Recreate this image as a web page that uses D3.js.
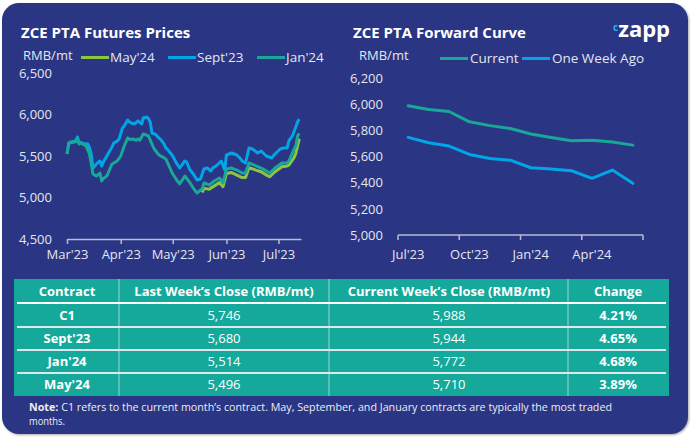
<!DOCTYPE html>
<html>
<head>
<meta charset="utf-8">
<script src="https://cdn.jsdelivr.net/npm/d3@7"></script>
<style>
html,body{margin:0;padding:0;background:#fff;}
svg{display:block;font-family:"Open Sans",sans-serif;}
</style>
</head>
<body>
<svg id="chart" width="693" height="438"></svg>
<script>
// ---------- DATA ----------
const sept23 = [
["2023-03-01",5524],["2023-03-02",5645],["2023-03-03",5660],["2023-03-06",5672],["2023-03-07",5729],
["2023-03-08",5657],["2023-03-09",5665],["2023-03-10",5650],["2023-03-13",5645],["2023-03-14",5600],
["2023-03-15",5524],["2023-03-16",5355],["2023-03-17",5380],["2023-03-18",5404],["2023-03-20",5440],
["2023-03-21",5380],["2023-03-22",5430],["2023-03-24",5500],["2023-03-27",5610],["2023-03-28",5657],
["2023-03-30",5681],["2023-03-31",5700],["2023-04-02",5837],["2023-04-03",5860],["2023-04-05",5934],
["2023-04-06",5910],["2023-04-07",5898],["2023-04-09",5886],["2023-04-11",5922],["2023-04-13",5886],
["2023-04-14",5958],["2023-04-16",5970],["2023-04-17",5950],["2023-04-18",5910],["2023-04-19",5777],
["2023-04-21",5760],["2023-04-23",5717],["2023-04-24",5700],["2023-04-26",5645],["2023-04-27",5596],
["2023-04-28",5580],["2023-05-01",5500],["2023-05-03",5420],["2023-05-05",5355],["2023-05-08",5440],
["2023-05-09",5428],["2023-05-11",5331],["2023-05-13",5280],["2023-05-15",5211],["2023-05-17",5223],
["2023-05-19",5343],["2023-05-21",5355],["2023-05-23",5319],["2023-05-24",5355],["2023-05-26",5380],
["2023-05-29",5440],["2023-05-31",5331],["2023-06-01",5512],["2023-06-04",5536],["2023-06-07",5512],
["2023-06-09",5470],["2023-06-10",5440],["2023-06-12",5416],["2023-06-14",5596],["2023-06-16",5584],
["2023-06-19",5536],["2023-06-21",5560],["2023-06-24",5500],["2023-06-27",5476],["2023-06-29",5524],
["2023-07-02",5584],["2023-07-04",5596],["2023-07-06",5596],["2023-07-07",5681],["2023-07-09",5741],
["2023-07-11",5850],["2023-07-12",5910],["2023-07-13",5944]
];
const jan24 = [
["2023-03-01",5524],["2023-03-02",5657],["2023-03-03",5670],["2023-03-06",5681],["2023-03-07",5717],
["2023-03-08",5645],["2023-03-09",5655],["2023-03-10",5645],["2023-03-12",5620],["2023-03-14",5524],
["2023-03-16",5283],["2023-03-17",5270],["2023-03-18",5259],["2023-03-20",5295],["2023-03-21",5199],
["2023-03-22",5230],["2023-03-24",5259],["2023-03-27",5404],["2023-03-30",5440],["2023-04-01",5500],
["2023-04-03",5620],["2023-04-05",5717],["2023-04-06",5700],["2023-04-08",5705],["2023-04-10",5690],
["2023-04-11",5705],["2023-04-12",5690],["2023-04-14",5765],["2023-04-16",5750],["2023-04-17",5741],
["2023-04-19",5645],["2023-04-20",5596],["2023-04-23",5512],["2023-04-25",5490],["2023-04-27",5464],
["2023-05-01",5283],["2023-05-03",5220],["2023-05-05",5163],["2023-05-08",5259],["2023-05-11",5175],
["2023-05-13",5110],["2023-05-15",5054],["2023-05-17",5090],["2023-05-18",5102],["2023-05-19",5175],
["2023-05-22",5151],["2023-05-25",5199],["2023-05-28",5235],["2023-05-30",5175],["2023-06-01",5343],
["2023-06-04",5355],["2023-06-07",5331],["2023-06-10",5295],["2023-06-12",5295],["2023-06-14",5416],
["2023-06-18",5380],["2023-06-21",5355],["2023-06-24",5319],["2023-06-26",5295],["2023-06-29",5355],
["2023-07-03",5416],["2023-07-06",5416],["2023-07-07",5440],["2023-07-10",5584],["2023-07-11",5620],
["2023-07-12",5741],["2023-07-13",5772]
];
const may24 = [
["2023-05-18",5060],["2023-05-19",5110],["2023-05-22",5100],["2023-05-25",5140],["2023-05-28",5180],
["2023-05-30",5130],["2023-06-01",5290],["2023-06-04",5300],["2023-06-07",5270],["2023-06-10",5240],
["2023-06-12",5240],["2023-06-14",5360],["2023-06-18",5330],["2023-06-21",5310],["2023-06-24",5270],
["2023-06-26",5250],["2023-06-29",5310],["2023-07-03",5370],["2023-07-06",5380],["2023-07-07",5390],
["2023-07-10",5480],["2023-07-11",5530],["2023-07-12",5620],["2023-07-13",5710]
];
const futTickMonths = ["2023-03-01","2023-04-01","2023-05-01","2023-06-01","2023-07-01"];
const futYTicks = [4500,5000,5500,6000,6500];

const curveMonths = ["Jul'23","Aug'23","Sep'23","Oct'23","Nov'23","Dec'23","Jan'24","Feb'24","Mar'24","Apr'24","May'24","Jun'24"];
const curveCurrent = [5988,5960,5944,5865,5836,5814,5772,5745,5720,5725,5710,5687];
const curveWeekAgo = [5746,5705,5680,5616,5585,5572,5514,5504,5491,5433,5496,5395];
const curveTickMonths = ["Jul'23","Oct'23","Jan'24","Apr'24"];
const curveYTicks = [5000,5200,5400,5600,5800,6000,6200];

const tableHeader = ["Contract","Last Week\u2019s Close (RMB/mt)","Current Week\u2019s Close (RMB/mt)","Change"];
const contracts = ["C1","Sept'23","Jan'24","May'24"];
const lastWeekClose = [5746,5680,5514,5496];
const currentWeekClose = [5988,5944,5772,5710];
const weeklyChange = ["4.21%","4.65%","4.68%","3.89%"];

// ---------- STYLE ----------
const NAVY = "#293683", TEAL_BG = "#14a99b";
const C_BLUE = "#02a6e6", C_TEAL = "#19a898", C_GREEN = "#8cc63e";
const AXIS_TXT = "#e4e6f0", AXIS_LINE = "#b9bdd0";

const svg = d3.select("#chart");
const defs = svg.append("defs");
const f = defs.append("filter").attr("id","sh").attr("x","-5%").attr("y","-5%").attr("width","110%").attr("height","110%");
f.append("feDropShadow").attr("dx",1).attr("dy",1).attr("stdDeviation",1.2).attr("flood-color","#000").attr("flood-opacity",0.35);

svg.append("rect").attr("x",2).attr("y",3).attr("width",686).attr("height",431)
  .attr("rx",17).attr("fill",NAVY).attr("filter","url(#sh)");

const fmt = d3.format(",");
const parse = d3.timeParse("%Y-%m-%d");

// ---------- LEFT CHART ----------
svg.append("text").attr("x",21).attr("y",38).attr("fill","#fff")
  .attr("font-size",15).attr("font-weight",700).text("ZCE PTA Futures Prices");
svg.append("text").attr("x",23).attr("y",60).attr("fill",AXIS_TXT)
  .attr("font-size",13).text("RMB/mt");

const leftLegend = [["May'24",C_GREEN,81],["Sept'23",C_BLUE,168],["Jan'24",C_TEAL,257]];
leftLegend.forEach(([lab,col,x0])=>{
  svg.append("line").attr("x1",x0).attr("x2",x0+28).attr("y1",57.5).attr("y2",57.5)
    .attr("stroke",col).attr("stroke-width",3);
  svg.append("text").attr("x",x0+29).attr("y",62).attr("fill",AXIS_TXT)
    .attr("font-size",13.5).text(lab);
});

const xL = d3.scaleTime().domain([parse("2023-03-01"),parse("2023-07-14")]).range([67,301]);
const yL = d3.scaleLinear().domain([4500,6500]).range([239,73]);

const gxL = svg.append("g").attr("transform","translate(0,239)")
  .call(d3.axisBottom(xL).tickValues(futTickMonths.map(parse))
    .tickFormat(d3.timeFormat("%b'%y")).tickSize(5).tickSizeOuter(0).tickPadding(6));
gxL.select(".domain").attr("stroke",AXIS_LINE).attr("stroke-width",1.5);
gxL.selectAll(".tick line").attr("stroke",AXIS_LINE).attr("stroke-width",1.5);
gxL.selectAll(".tick text").attr("fill",AXIS_TXT).attr("font-size",13).attr("font-family","Open Sans");

const gyL = svg.append("g").attr("transform","translate(55,0)")
  .call(d3.axisLeft(yL).tickValues(futYTicks).tickFormat(fmt).tickSize(0).tickPadding(3));
gyL.select(".domain").remove();
gyL.selectAll(".tick text").attr("fill",AXIS_TXT).attr("font-size",13).attr("font-family","Open Sans");

const lineL = d3.line().x(d=>xL(parse(d[0]))).y(d=>yL(d[1]));
[[sept23,C_BLUE],[may24,C_GREEN],[jan24,C_TEAL]].forEach(([data,col])=>{
  svg.append("path").datum(data).attr("d",lineL).attr("fill","none")
    .attr("stroke",col).attr("stroke-width",3).attr("stroke-linejoin","round");
});

// ---------- RIGHT CHART ----------
svg.append("text").attr("x",353).attr("y",38).attr("fill","#fff")
  .attr("font-size",15).attr("font-weight",700).text("ZCE PTA Forward Curve");
svg.append("text").attr("x",359).attr("y",60).attr("fill",AXIS_TXT)
  .attr("font-size",13).text("RMB/mt");

const rightLegend = [["Current",C_TEAL,440],["One Week Ago",C_BLUE,522]];
rightLegend.forEach(([lab,col,x0])=>{
  svg.append("line").attr("x1",x0).attr("x2",x0+28).attr("y1",58.5).attr("y2",58.5)
    .attr("stroke",col).attr("stroke-width",3);
  svg.append("text").attr("x",x0+30).attr("y",63).attr("fill",AXIS_TXT)
    .attr("font-size",13.5).text(lab);
});

// logo
const logo = svg.append("text").attr("x",613).attr("y",37).attr("fill","#fff");
logo.append("tspan").attr("font-size",10).attr("font-weight",700).attr("fill","#29b3ee").attr("dy",-6).text("c");
logo.append("tspan").attr("font-size",22).attr("font-weight",700).attr("dy",6).text("zapp");

const xR = d3.scaleBand().domain(curveMonths).range([398,643]).padding(0);
const yR = d3.scaleLinear().domain([5000,6200]).range([235,78]);
const cx = m => xR(m) + xR.bandwidth()/2;

svg.append("line").attr("x1",xR.range()[0]).attr("x2",xR.range()[1]).attr("y1",235).attr("y2",235)
  .attr("stroke",AXIS_LINE).attr("stroke-width",1.5);
const tickPos = curveTickMonths.map(m=>xR(m)).concat([xR.range()[1]]);
svg.selectAll(".rt").data(tickPos).enter().append("line")
  .attr("x1",d=>d).attr("x2",d=>d).attr("y1",235).attr("y2",240)
  .attr("stroke",AXIS_LINE).attr("stroke-width",1.5);
svg.selectAll(".rl").data(curveTickMonths).enter().append("text")
  .attr("x",d=>cx(d)).attr("y",259).attr("text-anchor","middle")
  .attr("fill",AXIS_TXT).attr("font-size",13).text(d=>d);

const gyR = svg.append("g").attr("transform","translate(386,0)")
  .call(d3.axisLeft(yR).tickValues(curveYTicks).tickFormat(fmt).tickSize(0).tickPadding(3));
gyR.select(".domain").remove();
gyR.selectAll(".tick text").attr("fill",AXIS_TXT).attr("font-size",13).attr("font-family","Open Sans");

const lineR = d3.line().x((d,i)=>cx(curveMonths[i])).y(d=>yR(d));
[[curveWeekAgo,C_BLUE],[curveCurrent,C_TEAL]].forEach(([data,col])=>{
  svg.append("path").datum(data).attr("d",lineR).attr("fill","none")
    .attr("stroke",col).attr("stroke-width",3).attr("stroke-linejoin","round").attr("stroke-linecap","round");
});

// ---------- TABLE ----------
const colEdges = [14,119,329,568,669];
const rowEdges = [279,303,327,350,373,396];
svg.append("rect").attr("x",colEdges[0]).attr("y",rowEdges[0])
  .attr("width",colEdges[4]-colEdges[0]).attr("height",rowEdges[5]-rowEdges[0]).attr("fill",TEAL_BG);
colEdges.slice(1,4).forEach(x=>{
  svg.append("line").attr("x1",x).attr("x2",x).attr("y1",rowEdges[0]).attr("y2",rowEdges[5])
    .attr("stroke","#9fd3cf").attr("stroke-width",1);
});
rowEdges.slice(1,5).forEach((y,i)=>{
  svg.append("line").attr("x1",colEdges[0]+3).attr("x2",colEdges[4]-3).attr("y1",y).attr("y2",y)
    .attr("stroke",i===0?"#ffffff":"#dfe7ea").attr("stroke-width",2);
});
const colCenters = [67,224,449,618];
tableHeader.forEach((h,i)=>{
  svg.append("text").attr("x",colCenters[i]).attr("y",296).attr("text-anchor","middle")
    .attr("fill","#fff").attr("font-size",13).attr("font-weight",700).text(h);
});
contracts.forEach((c,r)=>{
  const yb = (rowEdges[r+1]+rowEdges[r+2])/2 + 4.5;
  const cells = [[c,700],[fmt(lastWeekClose[r]),400],[fmt(currentWeekClose[r]),400],[weeklyChange[r],700]];
  cells.forEach(([t,w],i)=>{
    svg.append("text").attr("x",colCenters[i]).attr("y",yb).attr("text-anchor","middle")
      .attr("fill","#fff").attr("font-size",13).attr("font-weight",w).text(t);
  });
});

// note
const note = svg.append("text").attr("x",29).attr("y",411).attr("fill","#eceef5").attr("font-size",11)
  .attr("textLength",583).attr("lengthAdjust","spacingAndGlyphs");
note.append("tspan").attr("font-weight",700).text("Note:");
note.append("tspan").text(" C1 refers to the current month\u2019s contract. May, September, and January contracts are typically the most traded");
svg.append("text").attr("x",29).attr("y",425).attr("fill","#eceef5").attr("font-size",11)
  .attr("textLength",36).attr("lengthAdjust","spacingAndGlyphs").text("months.");
</script>
</body>
</html>
